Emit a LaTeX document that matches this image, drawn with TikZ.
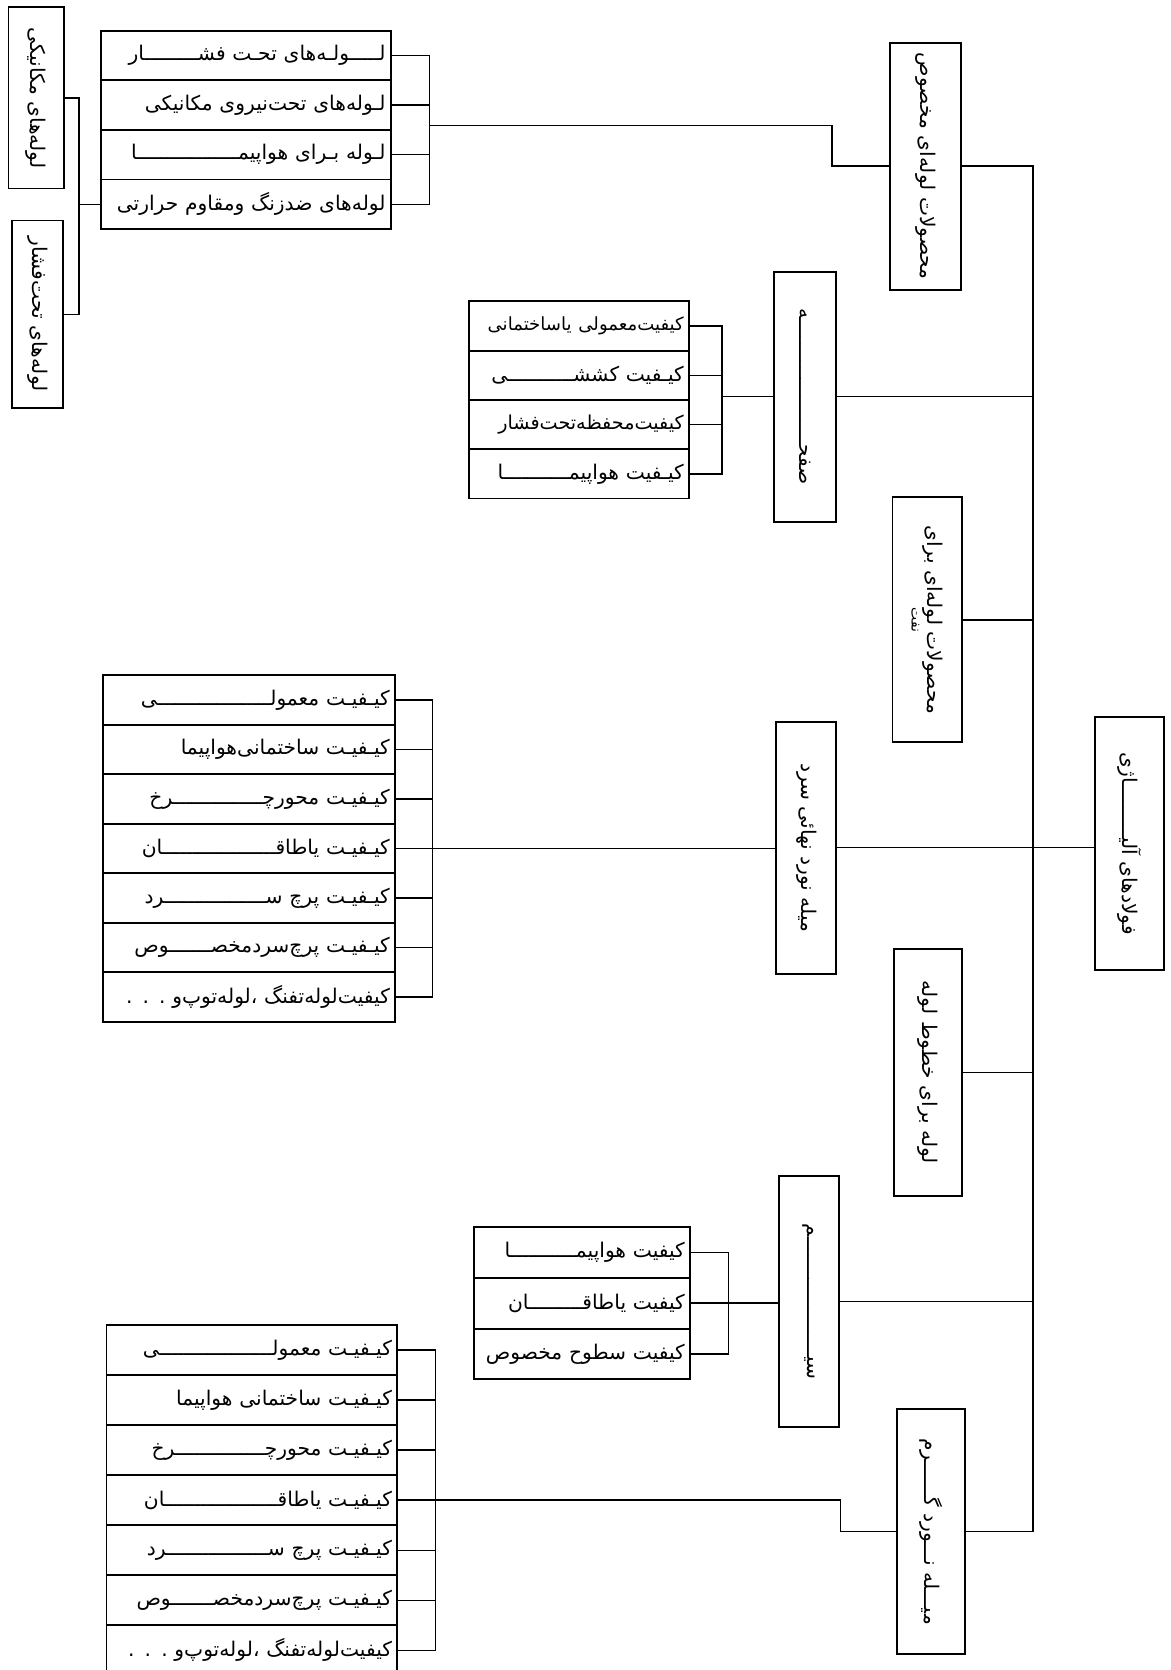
\documentclass[tikz,border=0pt]{standalone}
\usepackage{fontspec}
\usepackage{tikz}
\newfontfamily\farsi[Script=Arabic]{DejaVu Sans}
\TeXXeTstate=1
\newcommand{\rtl}[1]{\mbox{\beginR #1\endR}}

\begin{document}
\begin{tikzpicture}[
  x=1pt, y=-1pt,
  cell/.style 2 args={draw, line width=1.8pt, inner xsep=5pt, inner ysep=0pt, text width=#1, minimum height=#2, align=right, font=\farsi\fontsize{19}{21}\selectfont},
  vbox/.style 2 args={draw, line width=1.8pt, minimum width=#1, minimum height=#2, inner sep=0pt, align=center, font=\farsi\fontsize{19}{22}\selectfont},
  link/.style={line width=1.3pt},
]
\useasboundingbox (0,0) rectangle (1099,1568);

\node[vbox={52pt}{170pt}] (mech) at (34,92) {\rotatebox{-90}{\rtl{لوله‌های مکانیکی}}};
\node[vbox={48pt}{176pt}] (press) at (35,295) {\rotatebox{-90}{\rtl{لوله‌های تحت‌فشار}}};

\node[cell={262pt}{46.5pt}] (a1) at (231,52.25) {\rtl{لـــــولـه‌های تحـت فشـــــــــار}};
\node[cell={262pt}{46.5pt}] (a2) at (231,98.75) {\rtl{لـوله‌های تحت‌نیروی مکانیکی}};
\node[cell={262pt}{46.5pt}] (a3) at (231,145.25) {\rtl{لـوله بـرای هواپیمـــــــــــــــــا}};
\node[cell={262pt}{46.5pt}] (a4) at (231,191.75) {\rtl{لوله‌های ضدزنگ ومقاوم حرارتی}};

\node[vbox={67pt}{232pt}] (special) at (869,156) {\rotatebox{-90}{\rtl{محصولات لوله‌ای مخصوص}}};
\node[vbox={58pt}{235pt}] (plate) at (756,372.5) {\rotatebox{-90}{\rtl{صفحـــــــــــــــــــــه}}};
\node[vbox={65pt}{230pt}] (oil) at (870.5,582) {\rotatebox{-90}{\shortstack{\rtl{محصولات لوله‌ای برای}\\{\fontsize{13}{13}\selectfont\rtl{نفت}}}}};
\node[vbox={56pt}{237pt}] (coldbar) at (757,796) {\rotatebox{-90}{\rtl{میله نورد نهائی سرد}}};
\node[vbox={65pt}{238pt}] (alloy) at (1060.5,792) {\rotatebox{-90}{\rtl{فولادهای آلیـــــــــاژی}}};
\node[vbox={64pt}{232pt}] (pipeline) at (871,1007) {\rotatebox{-90}{\rtl{لوله برای خطوط لوله}}};
\node[vbox={56pt}{236pt}] (wire) at (759.5,1222) {\rotatebox{-90}{\rtl{سیــــــــــــــــــــم}}};
\node[vbox={64pt}{230pt}] (hotbar) at (874,1438) {\rotatebox{-90}{\rtl{میـــله نـــورد گــــــرم}}};

\node[cell={197pt}{46.25pt}] (b1) at (543.5,306.1) {\fontsize{17}{19}\selectfont\rtl{کیفیت‌معمولی یاساختمانی}};
\node[cell={197pt}{46.25pt}] (b2) at (543.5,352.4) {\rtl{کیـفیت کششـــــــــــی}};
\node[cell={197pt}{46.25pt}] (b3) at (543.5,398.6) {\fontsize{18}{20}\selectfont\rtl{کیفیت‌محفظه‌تحت‌فشار}};
\node[cell={197pt}{46.25pt}] (b4) at (543.5,444.9) {\rtl{کیـفیت هواپیمـــــــــــا}};

\node[cell={264pt}{46.5pt}] (c1) at (234,657.25) {\rtl{کیـفیـت معمولـــــــــــــــــــی}};
\node[cell={264pt}{46.5pt}] (c2) at (234,703.75) {\rtl{کیـفیـت ساختمانی‌هواپیما}};
\node[cell={264pt}{46.5pt}] (c3) at (234,750.25) {\rtl{کیـفیـت محورچـــــــــــــــرخ}};
\node[cell={264pt}{46.5pt}] (c4) at (234,796.75) {\rtl{کیـفیـت یاطاقـــــــــــــــــــان}};
\node[cell={264pt}{46.5pt}] (c5) at (234,843.25) {\rtl{کیـفیـت پرچ ســـــــــــــــــرد}};
\node[cell={264pt}{46.5pt}] (c6) at (234,889.75) {\rtl{کیـفیـت پرچ‌سردمخصـــــــوص}};
\node[cell={264pt}{46.5pt}] (c7) at (234,936.25) {\rtl{کیفیت‌لوله‌تفنگ ،لوله‌توپ‌و . . .}};

\node[cell={193pt}{47.7pt}] (d1) at (546.5,1175.85) {\rtl{کیفیت هواپیمـــــــــــا}};
\node[cell={193pt}{47.7pt}] (d2) at (546.5,1223.55) {\rtl{کیفیت یاطاقـــــــــان}};
\node[cell={193pt}{47.7pt}] (d3) at (546.5,1271.25) {\rtl{کیفیت سطوح مخصوص}};

\node[cell={263pt}{47pt}] (e1) at (236.5,1267.5) {\rtl{کیـفیـت معمولـــــــــــــــــــی}};
\node[cell={263pt}{47pt}] (e2) at (236.5,1314.5) {\rtl{کیـفیـت ساختمانی هواپیما}};
\node[cell={263pt}{47pt}] (e3) at (236.5,1361.5) {\rtl{کیـفیـت محورچـــــــــــــــرخ}};
\node[cell={263pt}{47pt}] (e4) at (236.5,1408.5) {\rtl{کیـفیـت یاطاقـــــــــــــــــــان}};
\node[cell={263pt}{47pt}] (e5) at (236.5,1455.5) {\rtl{کیـفیـت پرچ ســـــــــــــــــرد}};
\node[cell={263pt}{47pt}] (e6) at (236.5,1502.5) {\rtl{کیـفیـت پرچ‌سردمخصـــــــوص}};
\node[cell={263pt}{47pt}] (e7) at (236.5,1549.5) {\rtl{کیفیت‌لوله‌تفنگ ،لوله‌توپ‌و . . .}};

\coordinate (jL) at (74,191.75);
\coordinate (jA) at (403,118);
\coordinate (jB) at (678,372.5);
\coordinate (jC) at (406,796.75);
\coordinate (jD) at (684,1223.55);
\coordinate (jE) at (409,1408.5);
\coordinate (tk) at (970,0);

\draw[link] (mech.east) -- (mech.east -| jL) -- (press.east -| jL) -- (press.east);
\draw[link] (a4.west) -- (jL);

\draw[link] (a1.east) -- (a1.east -| jA) -- (a4.east -| jA) -- (a4.east);
\draw[link] (a2.east) -- (a2.east -| jA); \draw[link] (a3.east) -- (a3.east -| jA);
\draw[link] (jA) -- ++(378,0) |- (special.west);

\draw[link] (b1.east) -- (b1.east -| jB) -- (b4.east -| jB) -- (b4.east);
\draw[link] (b2.east) -- (b2.east -| jB); \draw[link] (b3.east) -- (b3.east -| jB);
\draw[link] (jB) -- (plate.west);

\draw[link] (c1.east) -- (c1.east -| jC) -- (c7.east -| jC) -- (c7.east);
\draw[link] (c2.east) -- (c2.east -| jC); \draw[link] (c3.east) -- (c3.east -| jC);
\draw[link] (c5.east) -- (c5.east -| jC); \draw[link] (c6.east) -- (c6.east -| jC);
\draw[link] (c4.east) -- (c4.east -| coldbar.west);

\draw[link] (d1.east) -- (d1.east -| jD) -- (d3.east -| jD) -- (d3.east);
\draw[link] (d2.east) -- (d2.east -| wire.west);

\draw[link] (e1.east) -- (e1.east -| jE) -- (e7.east -| jE) -- (e7.east);
\draw[link] (e2.east) -- (e2.east -| jE); \draw[link] (e3.east) -- (e3.east -| jE);
\draw[link] (e5.east) -- (e5.east -| jE); \draw[link] (e6.east) -- (e6.east -| jE);
\draw[link] (e4.east) -- ++(415,0) |- (hotbar.west);

\draw[link] (special.east) -| (hotbar.east -| tk) -- (hotbar.east);
\draw[link] (plate.east) -- (plate.east -| tk); \draw[link] (oil.east) -- (oil.east -| tk);
\draw[link] (pipeline.east) -- (pipeline.east -| tk); \draw[link] (wire.east) -- (wire.east -| tk);
\draw[link] (coldbar.east) -- (coldbar.east -| alloy.west);
\end{tikzpicture}
\end{document}
